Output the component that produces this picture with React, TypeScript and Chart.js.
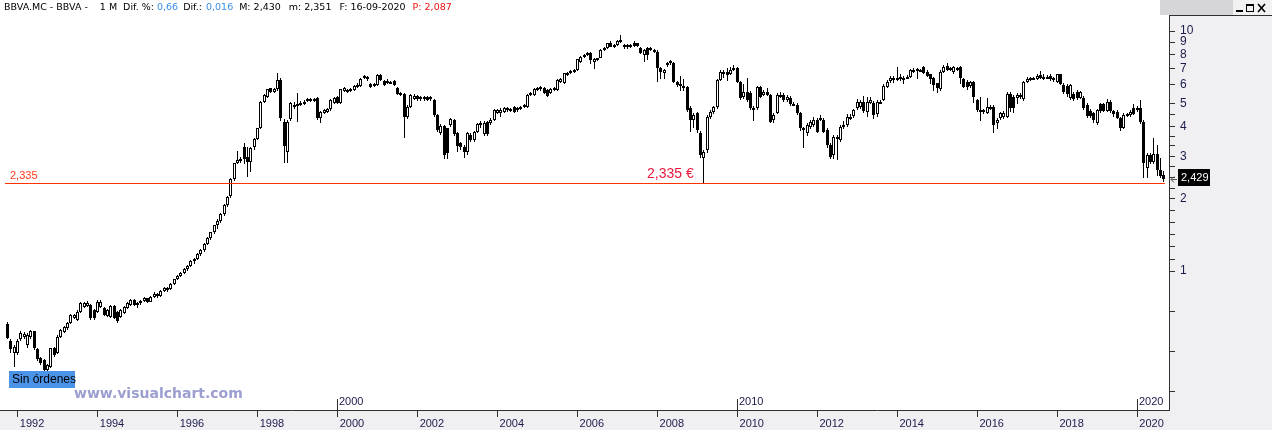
import React, { useEffect, useRef } from 'react';
import { Chart, registerables } from 'chart.js';

Chart.register(...registerables);

// Monthly candles, first one = October 1991, last one = September 2020
const FIRST_YEAR = 1991;
const FIRST_MONTH = 10;

const OPEN = [
  .600, .513, .454, .454, .519, .530, .492, .529, .560, .472,
  .433, .426, .387, .399, .476, .454, .529, .555, .577, .609,
  .635, .625, .677, .710, .715, .722, .688, .677, .710, .700,
  .650, .645, .715, .677, .645, .671, .700, .722, .757, .722,
  .735, .752, .770, .745, .782, .805, .785, .822, .852, .838,
  .882, .922, .952, .982, 1.02, 1.05, 1.10, 1.12, 1.18, 1.22,
  1.30, 1.37, 1.45, 1.55, 1.62, 1.72, 1.88, 2.05, 2.41, 2.81,
  2.90, 3.28, 3.00, 2.85, 3.28, 3.55, 3.93, 5.08, 5.32, 5.77,
  5.59, 5.71, 6.25, 4.19, 3.14, 4.29, 4.84, 4.88, 4.92, 4.98,
  5.13, 5.19, 5.19, 5.24, 4.33, 4.57, 4.61, 4.72, 5.00, 5.29,
  5.00, 5.64, 5.59, 5.64, 5.68, 5.86, 5.90, 6.35, 6.45, 6.01,
  5.90, 5.96, 6.56, 6.21, 6.09, 6.15, 6.21, 5.80, 5.41, 5.46,
  4.40, 4.84, 5.19, 5.36, 5.19, 5.19, 5.29, 5.19, 5.16, 4.47,
  3.77, 4.02, 3.93, 4.06, 4.26, 3.75, 3.40, 3.30, 3.14, 3.69,
  3.51, 3.80, 4.15, 3.72, 4.19, 4.12, 4.26, 4.57, 4.54, 4.61,
  4.76, 4.67, 4.81, 4.67, 4.77, 4.83, 4.83, 5.41, 5.41, 5.72,
  5.82, 5.77, 5.68, 5.50, 5.68, 5.68, 6.15, 6.05, 6.56, 6.66,
  6.77, 6.88, 7.45, 7.82, 7.94, 8.13, 7.45, 7.57, 7.75, 8.34,
  8.48, 8.95, 8.61, 8.74, 9.02, 8.74, 8.74, 8.74, 8.95, 8.88,
  8.48, 7.94, 8.48, 8.34, 8.21, 8.21, 6.98, 6.66, 7.33, 7.50,
  7.33, 6.15, 5.92, 5.82, 5.82, 4.76, 4.25, 4.54, 3.77, 2.95,
  3.19, 4.40, 4.61, 4.81, 6.25, 6.64, 6.77, 6.64, 6.88, 6.98,
  6.15, 5.32, 5.59, 5.50, 4.69, 4.76, 5.82, 5.41, 5.59, 5.41,
  4.26, 4.54, 5.32, 5.41, 5.16, 5.24, 4.92, 4.92, 4.54, 3.90,
  3.75, 3.99, 4.06, 4.26, 4.26, 4.26, 3.87, 3.35, 3.04, 3.57,
  3.51, 3.99, 4.06, 4.33, 4.43, 4.76, 4.84, 5.08, 4.61, 5.00,
  5.00, 4.50, 5.05, 5.16, 5.86, 6.19, 6.31, 6.31, 6.31, 6.35,
  6.35, 6.46, 6.82, 6.94, 6.82, 7.10, 6.77, 6.60, 6.39, 6.05,
  5.73, 6.77, 7.17, 6.88, 6.77, 6.88, 7.10, 6.31, 6.15, 5.90,
  6.15, 5.16, 4.61, 4.61, 4.54, 4.76, 4.84, 4.12, 4.33, 4.40,
  4.40, 5.45, 5.32, 5.24, 5.32, 5.20, 6.11, 6.25, 6.31, 6.31,
  6.56, 6.46, 6.41, 6.52, 6.25, 6.15, 6.60, 5.96, 5.92, 5.24,
  5.45, 5.55, 5.27, 5.27, 4.92, 4.64, 4.54, 4.12, 4.95, 4.95,
  4.66, 5.08, 4.64, 4.61, 4.33, 3.95, 4.44, 4.47, 4.76, 4.68,
  4.76, 4.19, 2.68, 3.04, 2.85, 3.06, 2.64, 2.51,
];

const HIGH = [
  .612, .522, .490, .520, .560, .555, .550, .570, .565, .476,
  .440, .430, .410, .480, .482, .540, .575, .590, .615, .660,
  .665, .690, .740, .745, .750, .730, .695, .755, .755, .710,
  .695, .720, .720, .680, .695, .715, .740, .765, .765, .745,
  .760, .780, .775, .790, .815, .812, .830, .860, .858, .890,
  .930, .960, .990, 1.03, 1.06, 1.11, 1.13, 1.19, 1.23, 1.31,
  1.38, 1.46, 1.56, 1.64, 1.75, 1.90, 2.06, 2.43, 2.83, 3.16,
  2.98, 3.40, 3.28, 3.28, 3.58, 3.96, 5.10, 5.45, 5.75, 5.80,
  5.80, 6.70, 6.35, 4.30, 4.25, 5.05, 5.05, 5.50, 5.10, 5.15,
  5.25, 5.25, 5.25, 5.30, 4.65, 4.75, 4.80, 5.20, 5.30, 5.35,
  5.75, 5.85, 5.75, 5.78, 5.95, 6.05, 6.35, 6.55, 6.50, 6.10,
  6.10, 6.62, 6.62, 6.25, 6.30, 6.20, 6.25, 5.85, 5.55, 5.50,
  4.90, 5.45, 5.45, 5.42, 5.35, 5.38, 5.35, 5.35, 5.20, 4.50,
  4.10, 4.06, 3.96, 4.35, 4.30, 3.80, 3.45, 3.35, 3.80, 3.75,
  3.85, 4.15, 4.20, 4.20, 4.22, 4.33, 4.72, 4.75, 4.76, 4.82,
  4.82, 4.80, 4.85, 4.82, 4.88, 4.95, 5.45, 5.55, 5.77, 5.85,
  5.90, 5.82, 5.72, 5.77, 5.85, 6.30, 6.35, 6.70, 6.78, 6.85,
  6.95, 7.68, 7.90, 8.00, 8.15, 8.20, 7.70, 7.75, 8.40, 8.55,
  8.95, 9.05, 8.85, 9.20, 9.62, 8.80, 8.85, 8.85, 9.05, 8.95,
  8.55, 8.40, 8.55, 8.55, 8.45, 8.30, 7.05, 6.95, 7.40, 7.60,
  7.40, 6.20, 6.50, 6.30, 5.90, 4.85, 4.55, 4.60, 3.85, 3.20,
  4.45, 4.68, 4.88, 6.30, 6.88, 6.85, 7.00, 7.05, 7.20, 7.10,
  6.20, 6.00, 6.35, 5.60, 4.85, 5.90, 5.90, 5.68, 5.80, 5.45,
  4.55, 5.50, 5.59, 5.50, 5.40, 5.35, 5.05, 5.00, 4.60, 4.00,
  4.15, 4.26, 4.40, 4.33, 4.47, 4.33, 3.95, 3.40, 3.70, 3.70,
  4.06, 4.20, 4.50, 4.50, 4.75, 5.20, 5.18, 5.35, 5.30, 5.30,
  5.10, 5.15, 5.15, 6.00, 6.25, 6.50, 6.50, 7.10, 6.60, 6.50,
  6.55, 6.95, 6.98, 7.00, 6.95, 7.15, 6.85, 6.65, 6.45, 6.10,
  6.85, 7.20, 7.35, 7.05, 7.15, 7.10, 7.15, 6.40, 6.25, 6.20,
  6.20, 5.20, 5.30, 4.75, 5.24, 4.90, 4.90, 4.35, 4.60, 4.65,
  5.55, 5.55, 5.40, 5.50, 5.50, 6.20, 6.45, 6.45, 6.45, 6.65,
  6.80, 6.60, 6.55, 6.60, 6.45, 6.65, 6.65, 6.05, 6.00, 6.00,
  5.55, 5.70, 5.65, 5.35, 5.00, 4.75, 4.60, 4.75, 5.00, 5.00,
  5.20, 5.15, 4.70, 4.70, 4.40, 4.55, 4.55, 4.70, 4.95, 4.85,
  5.15, 4.25, 3.10, 3.10, 3.57, 3.35, 2.95, 2.60,
];

const LOW = [
  .520, .455, .399, .445, .510, .522, .480, .520, .470, .420,
  .405, .380, .380, .395, .440, .450, .525, .550, .570, .600,
  .630, .620, .670, .700, .705, .625, .625, .670, .700, .650,
  .645, .640, .630, .610, .640, .665, .695, .715, .715, .700,
  .725, .740, .735, .740, .775, .770, .780, .815, .820, .832,
  .875, .915, .940, .975, 1.00, 1.04, 1.07, 1.11, 1.16, 1.20,
  1.28, 1.35, 1.43, 1.50, 1.58, 1.70, 1.85, 2.02, 2.38, 2.78,
  2.82, 2.80, 2.47, 2.59, 3.20, 3.50, 3.90, 5.00, 5.25, 5.50,
  5.50, 5.65, 4.20, 2.83, 2.83, 4.20, 4.75, 4.19, 4.85, 4.90,
  5.05, 5.05, 5.05, 4.25, 4.12, 4.50, 4.55, 4.65, 4.95, 4.95,
  4.95, 5.55, 5.50, 5.58, 5.60, 5.80, 5.85, 6.30, 6.20, 5.80,
  5.85, 5.90, 6.20, 5.90, 6.00, 6.00, 5.90, 5.40, 5.35, 3.60,
  4.30, 4.80, 5.15, 5.10, 5.10, 5.12, 5.10, 5.12, 4.40, 3.80,
  3.70, 2.92, 2.92, 4.00, 3.65, 3.14, 3.20, 2.95, 3.05, 3.45,
  3.45, 3.75, 3.95, 3.65, 3.65, 4.06, 4.20, 4.50, 4.37, 4.55,
  4.60, 4.60, 4.55, 4.60, 4.70, 4.78, 4.80, 5.35, 5.35, 5.65,
  5.65, 5.45, 5.30, 5.45, 5.60, 5.60, 6.10, 6.00, 6.50, 6.60,
  6.70, 6.82, 7.35, 7.75, 7.85, 7.30, 6.95, 7.50, 7.70, 8.25,
  8.40, 8.55, 8.50, 8.65, 8.90, 8.40, 8.45, 8.50, 8.55, 8.55,
  8.00, 7.45, 7.60, 8.25, 8.10, 6.15, 6.30, 6.30, 7.10, 7.20,
  6.10, 5.85, 5.60, 5.60, 4.60, 3.80, 3.95, 3.75, 2.95, 2.335,
  3.10, 4.30, 4.50, 4.75, 6.20, 6.40, 6.20, 6.55, 6.80, 6.05,
  5.15, 5.20, 5.05, 4.70, 4.20, 4.70, 5.25, 5.35, 5.35, 4.12,
  4.15, 4.50, 5.25, 5.08, 5.05, 4.85, 4.85, 4.45, 3.85, 3.25,
  3.65, 3.90, 4.00, 3.75, 4.20, 3.75, 3.25, 2.92, 2.92, 2.90,
  3.45, 3.90, 4.00, 4.25, 4.35, 4.70, 4.75, 4.55, 4.40, 4.95,
  4.30, 4.40, 4.98, 5.10, 5.80, 6.10, 6.10, 6.20, 6.20, 6.00,
  6.30, 6.40, 6.70, 6.30, 6.75, 6.60, 6.45, 6.00, 5.60, 5.50,
  5.65, 6.70, 6.80, 6.80, 6.65, 6.80, 6.00, 5.80, 5.70, 5.80,
  5.00, 4.60, 4.20, 4.50, 4.50, 4.70, 3.75, 3.90, 4.25, 4.30,
  4.35, 4.60, 4.55, 4.95, 5.20, 5.10, 6.05, 6.20, 6.25, 6.25,
  6.30, 6.25, 6.35, 6.20, 6.15, 6.10, 5.95, 5.45, 5.30, 5.15,
  5.10, 5.15, 5.20, 4.70, 4.35, 4.35, 4.12, 4.06, 4.55, 4.60,
  4.60, 4.55, 4.40, 4.30, 3.85, 3.90, 4.40, 4.40, 4.45, 4.60,
  4.10, 2.45, 2.45, 2.80, 2.80, 2.50, 2.45, 2.351,
];

const CLOSE = [
  .527, .472, .484, .513, .550, .548, .541, .561, .476, .429,
  .415, .387, .406, .476, .447, .532, .568, .586, .609, .656,
  .656, .677, .734, .734, .738, .635, .635, .745, .745, .656,
  .688, .715, .635, .621, .688, .710, .734, .757, .722, .735,
  .752, .770, .745, .782, .805, .785, .822, .852, .838, .882,
  .922, .952, .982, 1.02, 1.05, 1.10, 1.12, 1.18, 1.22, 1.30,
  1.37, 1.45, 1.55, 1.62, 1.72, 1.88, 2.03, 2.41, 2.81, 2.90,
  2.92, 2.92, 2.85, 3.25, 3.55, 3.93, 5.08, 5.41, 5.71, 5.59,
  5.71, 6.25, 4.33, 3.32, 4.19, 5.00, 4.92, 4.95, 5.00, 5.08,
  5.19, 5.13, 5.13, 4.33, 4.61, 4.69, 4.72, 5.16, 5.24, 5.00,
  5.71, 5.77, 5.68, 5.71, 5.90, 5.96, 6.29, 6.49, 6.29, 5.86,
  6.01, 6.56, 6.25, 5.96, 6.21, 6.05, 5.96, 5.46, 5.50, 4.40,
  4.84, 5.41, 5.36, 5.19, 5.29, 5.29, 5.16, 5.29, 4.47, 3.87,
  4.02, 3.04, 3.09, 4.29, 3.72, 3.32, 3.28, 3.14, 3.75, 3.51,
  3.80, 4.10, 4.06, 4.15, 3.72, 4.26, 4.69, 4.69, 4.69, 4.76,
  4.67, 4.73, 4.61, 4.76, 4.83, 4.90, 5.41, 5.50, 5.72, 5.77,
  5.72, 5.50, 5.38, 5.72, 5.77, 6.25, 6.29, 6.66, 6.70, 6.79,
  6.88, 7.62, 7.82, 7.94, 8.08, 7.57, 7.62, 7.69, 8.34, 8.48,
  8.88, 8.61, 8.74, 9.10, 9.17, 8.61, 8.55, 8.61, 8.67, 8.67,
  8.08, 8.34, 7.94, 8.48, 8.34, 6.98, 6.77, 6.88, 7.21, 7.33,
  6.15, 5.96, 6.01, 5.90, 4.69, 4.25, 4.47, 3.87, 3.04, 3.14,
  4.40, 4.61, 4.81, 6.25, 6.77, 6.77, 6.56, 6.88, 6.98, 6.15,
  5.24, 5.59, 5.16, 4.76, 4.76, 5.82, 5.32, 5.59, 5.41, 4.19,
  4.47, 5.41, 5.41, 5.16, 5.32, 4.97, 4.97, 4.54, 3.93, 3.93,
  4.06, 4.19, 4.26, 3.81, 4.33, 3.81, 3.35, 2.99, 3.63, 3.63,
  3.99, 4.06, 4.40, 4.40, 4.69, 5.08, 5.08, 4.66, 5.08, 5.16,
  4.47, 5.08, 5.08, 5.92, 6.15, 6.35, 6.39, 6.39, 6.46, 6.39,
  6.46, 6.88, 6.88, 6.82, 6.88, 6.67, 6.52, 6.31, 5.96, 5.77,
  6.77, 7.10, 6.88, 6.99, 7.10, 6.99, 6.39, 5.86, 5.86, 6.15,
  5.32, 4.68, 4.68, 4.68, 4.84, 4.84, 4.06, 4.26, 4.54, 4.54,
  5.45, 4.79, 4.79, 5.41, 5.41, 6.11, 6.31, 6.35, 6.35, 6.52,
  6.35, 6.31, 6.46, 6.31, 6.35, 6.60, 6.00, 5.55, 5.45, 5.96,
  5.20, 5.24, 5.59, 4.79, 4.44, 4.44, 4.26, 4.68, 4.64, 4.66,
  5.08, 4.64, 4.49, 4.36, 3.95, 4.47, 4.50, 4.61, 4.50, 4.76,
  4.19, 2.82, 3.04, 2.85, 3.06, 2.64, 2.50, 2.429,
];

const YEAR_TICKS = [1992, 1994, 1996, 1998, 2000, 2002, 2004, 2006, 2008, 2010, 2012, 2014, 2016, 2018, 2020];
const DECADE_MARKS = [2000, 2010, 2020];
const PRICE_LABELS = [1, 2, 3, 4, 5, 6, 7, 8, 9, 10];
const PRICE_MINOR = [0.316, 0.464, 0.681, 1.122, 1.26, 1.414, 1.587, 1.782, 2.2, 2.46, 2.72, 3.32, 3.65, 4.49];
const SUPPORT_LEVEL = 2.335;
const SUPPORT_TEXT = '2,335';
const LAST_PRICE = 2.429;
const LAST_TEXT = '2,429';

// header pieces: text, colour key (k black, b blue, r red)
const HEADER_PARTS: [string, string][] = [
  ['BBVA.MC - BBVA -', 'k'],
  ['1 M', 'k'],
  ['Dif. %:', 'k'],
  ['0,66', 'b'],
  ['Dif.:', 'k'],
  ['0,016', 'b'],
  ['M: 2,430', 'k'],
  ['m: 2,351', 'k'],
  ['F: 16-09-2020', 'k'],
  ['P: 2,087', 'r'],
];
// gap placed before each piece (px)
const HEADER_GAPS = [4, 12, 6, 3, 5, 4, 6, 8, 8, 7];

const X_MIN = -2.28;
const X_MAX = 348.56;
const Y_MIN = 0.2636;
const Y_MAX = 11.55;

const NAVY = '#1b1b4b';
const AXIS = '#303030';
const LAB_FONT = '"Liberation Sans", Arial, sans-serif';
const HEAD_FONT = '"DejaVu Sans", Verdana, sans-serif';

function monthIndex(year: number) {
  return (year - FIRST_YEAR) * 12 + (1 - FIRST_MONTH);
}
function yearOf(index: number) {
  return FIRST_YEAR + Math.floor((index + FIRST_MONTH - 1) / 12);
}

const decor = {
  id: 'vcDecor',
  beforeDraw(chart: any) {
    const { ctx, width, height, chartArea } = chart;
    ctx.save();
    ctx.fillStyle = '#ffffff';
    ctx.fillRect(0, 0, width, height);
    ctx.fillStyle = '#f0f0f3';
    ctx.fillRect(chartArea.right, chartArea.top, width - chartArea.right, height - chartArea.top);
    ctx.fillRect(0, chartArea.bottom, chartArea.right, height - chartArea.bottom);
    ctx.fillStyle = '#d6d6d8';
    ctx.fillRect(1160, 0, 73, 15);
    ctx.fillStyle = '#f2f2f2';
    ctx.fillRect(1233, 0, 39, 15);
    ctx.restore();
  },
  beforeDatasetsDraw(chart: any) {
    chart.data.datasets.forEach((_ds: any, di: number) => {
      const meta = chart.getDatasetMeta(di);
      const minH = di === 0 ? 2 : 1;
      meta.data.forEach((el: any) => {
        el.x = Math.floor(el.x) + 0.5;
        const top = Math.round(Math.min(el.y, el.base));
        let bot = Math.round(Math.max(el.y, el.base));
        if (bot - top < minH) bot = top + minH;
        el.y = top;
        el.base = bot;
      });
    });
  },
  afterDatasetsDraw(chart: any) {
    const { ctx, chartArea } = chart;
    const yS = chart.scales.y;
    const ys = Math.round(yS.getPixelForValue(SUPPORT_LEVEL));
    ctx.save();
    ctx.fillStyle = '#ff3300';
    ctx.fillRect(5, ys, chartArea.right - 9, 1);
    ctx.restore();
  },
  afterDraw(chart: any) {
    const { ctx, chartArea, width } = chart;
    const xS = chart.scales.x;
    const yS = chart.scales.y;
    ctx.save();
    // header
    ctx.textBaseline = 'middle';
    ctx.textAlign = 'left';
    ctx.font = '9.5px ' + HEAD_FONT;
    let hx = 0;
    HEADER_PARTS.forEach(([t, c], k) => {
      hx += HEADER_GAPS[k];
      ctx.fillStyle = c === 'b' ? '#3a8ee8' : c === 'r' ? '#ee1111' : '#000000';
      ctx.fillText(t, hx, 8);
      hx += ctx.measureText(t).width;
    });
    // window buttons
    ctx.strokeStyle = '#000';
    ctx.fillStyle = '#000';
    ctx.fillRect(1236, 10, 7, 2);
    ctx.lineWidth = 1;
    ctx.strokeRect(1246.5, 4.5, 7, 7);
    ctx.fillRect(1246, 4, 8, 2);
    ctx.lineWidth = 1.6;
    ctx.beginPath();
    ctx.moveTo(1258, 4); ctx.lineTo(1265, 12);
    ctx.moveTo(1265, 4); ctx.lineTo(1258, 12);
    ctx.stroke();
    // top border of the price panel
    ctx.lineWidth = 1;
    ctx.strokeStyle = AXIS;
    ctx.beginPath();
    ctx.moveTo(chartArea.right, 15.5);
    ctx.lineTo(width, 15.5);
    ctx.stroke();

    // support labels
    const ys = yS.getPixelForValue(SUPPORT_LEVEL);
    ctx.font = '11px ' + LAB_FONT;
    ctx.fillStyle = '#ff3a1a';
    ctx.fillText(SUPPORT_TEXT, 10, ys - 7);
    ctx.font = '14px ' + LAB_FONT;
    ctx.fillStyle = '#e8163c';
    ctx.fillText(SUPPORT_TEXT + ' €', 647, ys - 8);

    // last price tag
    const yl = Math.round(yS.getPixelForValue(LAST_PRICE));
    ctx.fillStyle = '#000';
    ctx.fillRect(1178, yl - 10, 32, 17);
    ctx.fillStyle = '#fff';
    ctx.font = '11px ' + LAB_FONT;
    ctx.fillText(LAST_TEXT, 1181, yl - 1);
    ctx.strokeStyle = '#555';
    ctx.lineWidth = 1;
    ctx.beginPath();
    ctx.moveTo(1171, yl + 0.5); ctx.lineTo(1177, yl + 0.5);
    ctx.moveTo(1174, yl - 2.5); ctx.lineTo(1171, yl + 0.5); ctx.lineTo(1174, yl + 3.5);
    ctx.stroke();

    // decade marks above the time axis
    ctx.strokeStyle = AXIS;
    ctx.fillStyle = NAVY;
    ctx.font = '11px ' + LAB_FONT;
    DECADE_MARKS.forEach((yr) => {
      const x = Math.floor(xS.getPixelForValue(monthIndex(yr))) + 0.5;
      ctx.beginPath();
      ctx.moveTo(x, chartArea.bottom - 11);
      ctx.lineTo(x, chartArea.bottom);
      ctx.stroke();
      ctx.fillText(String(yr), x + 1.5, chartArea.bottom - 8);
    });

    // "Sin órdenes" tag
    ctx.fillStyle = '#4b93e6';
    ctx.fillRect(9, 371, 66, 17);
    ctx.fillStyle = '#000';
    ctx.font = '12px ' + LAB_FONT;
    ctx.fillText('Sin órdenes', 12, 380);

    // watermark
    ctx.fillStyle = '#9c9ed0';
    ctx.font = 'bold 14px ' + HEAD_FONT;
    ctx.fillText('www.visualchart.com', 74, 394);
    ctx.restore();
  },
};

export default function App() {
  const ref = useRef<HTMLCanvasElement | null>(null);
  useEffect(() => {
    document.body.style.margin = '0';
    const canvas = ref.current;
    if (!canvas) return;
    const idx = CLOSE.map((_c, i) => i);
    const bodyData = idx.map((i) => ({ x: i, y: [Math.min(OPEN[i], CLOSE[i]), Math.max(OPEN[i], CLOSE[i])] }));
    const wickData = idx.map((i) => ({ x: i, y: [LOW[i], HIGH[i]] }));
    const bodyFill = idx.map((i) => (CLOSE[i] >= OPEN[i] ? '#ffffff' : '#000000'));

    const chart = new Chart(canvas, {
      type: 'bar',
      data: {
        datasets: [
          {
            label: 'body',
            data: bodyData as any,
            backgroundColor: bodyFill,
            borderColor: '#000000',
            borderWidth: 1,
            borderSkipped: false,
            barThickness: 3,
            grouped: false,
            order: 1,
            inflateAmount: 0,
          } as any,
          {
            label: 'wick',
            data: wickData as any,
            backgroundColor: '#000000',
            borderWidth: 0,
            barThickness: 1,
            grouped: false,
            order: 2,
            inflateAmount: 0,
          } as any,
        ],
      },
      options: {
        responsive: false,
        animation: false,
        events: [],
        layout: { padding: { top: 16, left: 0, right: 0, bottom: 0 } },
        plugins: { legend: { display: false }, tooltip: { enabled: false } },
        scales: {
          x: {
            type: 'linear',
            position: 'bottom',
            min: X_MIN,
            max: X_MAX,
            offset: false,
            afterFit: (s: any) => { s.height = 20; },
            afterBuildTicks: (s: any) => { s.ticks = YEAR_TICKS.map((y) => ({ value: monthIndex(y) })); },
            grid: { drawOnChartArea: false, drawTicks: true, tickLength: 7, color: AXIS, offset: false },
            border: { display: true, color: AXIS, width: 1 },
            ticks: {
              autoSkip: false,
              maxRotation: 0,
              minRotation: 0,
              align: 'start',
              padding: 0,
              color: NAVY,
              font: { family: LAB_FONT, size: 11 },
              callback: (v: any) => '\u2009' + String(yearOf(Number(v))),
            },
          } as any,
          y: {
            type: 'logarithmic',
            position: 'right',
            min: Y_MIN,
            max: Y_MAX,
            afterFit: (s: any) => { s.width = 103; },
            afterBuildTicks: (s: any) => {
              s.ticks = [...PRICE_MINOR, ...PRICE_LABELS].sort((a, b) => a - b).map((v) => ({ value: v }));
            },
            grid: { drawOnChartArea: false, drawTicks: true, tickLength: 6, color: AXIS },
            border: { display: true, color: AXIS, width: 1 },
            ticks: {
              autoSkip: false,
              padding: 5,
              color: NAVY,
              font: { family: LAB_FONT, size: 12 },
              callback: (v: any) => (PRICE_LABELS.includes(Number(v)) ? String(v) : ''),
            },
          } as any,
        },
      },
      plugins: [decor],
    });
    return () => chart.destroy();
  }, []);
  return <canvas ref={ref} width={1272} height={430} style={{ display: 'block' }} />;
}
